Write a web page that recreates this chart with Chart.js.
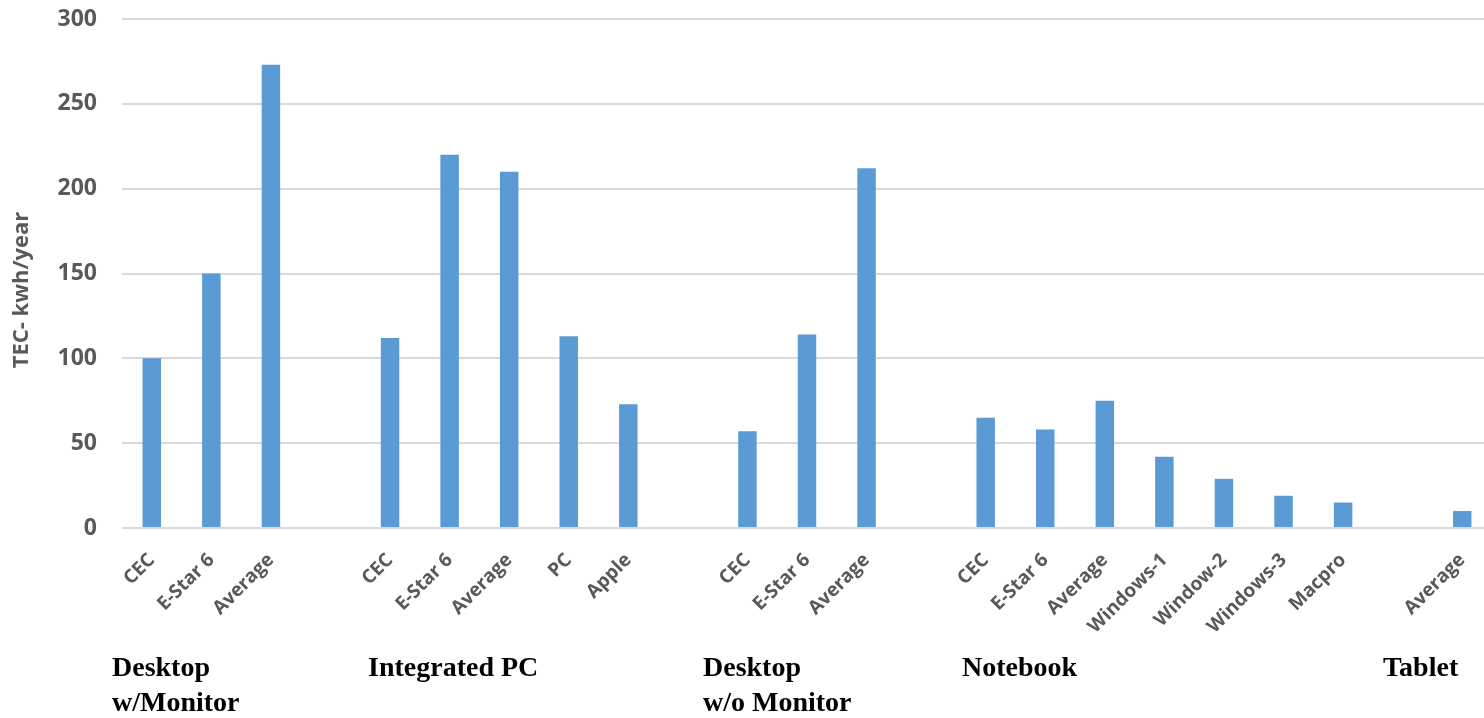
<!DOCTYPE html>
<html>
<head>
<meta charset="utf-8">
<script src="https://cdn.jsdelivr.net/npm/chart.js@4/dist/chart.umd.min.js"></script>
<style>
  html, body { margin: 0; padding: 0; background: #ffffff; overflow: hidden; }
  #wrap { position: relative; width: 1492px; height: 718px; }
</style>
</head>
<body>
<div id="wrap"><canvas id="chart"></canvas></div>
<script>
// Product types per device group; empty entries leave a gap between groups
const categories = [
  'CEC', 'E-Star 6', 'Average', '',
  'CEC', 'E-Star 6', 'Average', 'PC', 'Apple', '',
  'CEC', 'E-Star 6', 'Average', '',
  'CEC', 'E-Star 6', 'Average', 'Windows-1', 'Window-2', 'Windows-3', 'Macpro', '',
  'Average'
];

// Typical energy consumption, kWh per year
const tecValues = [
  100, 150, 273, null,
  112, 220, 210, 113, 73, null,
  57, 114, 212, null,
  65, 58, 75, 42, 29, 19, 15, null,
  10
];

const yAxisTitle = 'TEC- kwh/year';

// Device group captions under the axis
const groupNames = [
  ['Desktop', 'w/Monitor'],
  ['Integrated PC'],
  ['Desktop', 'w/o Monitor'],
  ['Notebook'],
  ['Tablet']
];
const groupAnchors = [112, 368, 703, 962, 1383];

// Group captions below the category labels, plus the vertical axis title
const extraText = {
  id: 'extraText',
  afterDraw(chart) {
    const ctx = chart.ctx;
    ctx.save();
    ctx.fillStyle = '#000000';
    ctx.font = 'bold 28px "Liberation Serif", "Times New Roman", serif';
    ctx.textAlign = 'left';
    ctx.textBaseline = 'alphabetic';
    groupNames.forEach((lines, i) => {
      lines.forEach((line, j) => {
        ctx.fillText(line, groupAnchors[i], 676 + j * 35);
      });
    });
    ctx.restore();

    ctx.save();
    ctx.translate(22, 290);
    ctx.rotate(-Math.PI / 2);
    ctx.fillStyle = '#595959';
    ctx.font = 'bold 22px "Open Sans", sans-serif';
    ctx.textAlign = 'center';
    ctx.textBaseline = 'middle';
    ctx.fillText(yAxisTitle, 0, 0);
    ctx.restore();
  }
};

new Chart(document.getElementById('chart'), {
  type: 'bar',
  data: {
    labels: categories,
    datasets: [{
      data: tecValues,
      backgroundColor: '#5B9BD5',
      borderWidth: 0,
      categoryPercentage: 1.0,
      barPercentage: 0.31
    }]
  },
  options: {
    responsive: true,
    maintainAspectRatio: false,
    animation: false,
    layout: { padding: { top: 19, left: 0, right: 0, bottom: 0 } },
    plugins: {
      legend: { display: false },
      tooltip: { enabled: false }
    },
    scales: {
      x: {
        grid: { display: false },
        border: { display: false },
        ticks: {
          autoSkip: false,
          maxRotation: 45,
          minRotation: 45,
          padding: 13,
          color: '#595959',
          font: { family: '"Open Sans", sans-serif', size: 19, weight: 'bold' }
        },
        afterFit(scale) {
          scale.height = 190;
          scale.paddingLeft = 0;
          scale.paddingRight = 0;
        }
      },
      y: {
        min: 0,
        max: 300,
        grid: { color: '#D9D9D9', lineWidth: 2, drawTicks: false },
        border: { display: false },
        ticks: {
          stepSize: 50,
          padding: 25,
          color: '#595959',
          font: { family: '"Open Sans", sans-serif', size: 23, weight: 'bold' }
        },
        title: { display: false },
        afterFit(scale) {
          scale.width = 122;
          scale.paddingTop = 0;
          scale.paddingBottom = 0;
        }
      }
    }
  },
  plugins: [extraText]
});
</script>
</body>
</html>
